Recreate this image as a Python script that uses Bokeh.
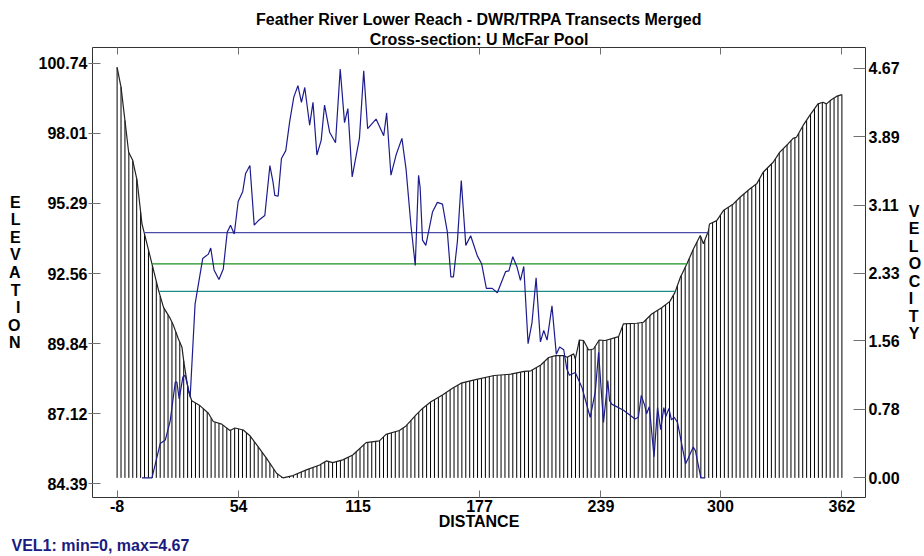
import numpy as np
from bokeh.plotting import figure
from bokeh.models import Range1d, LinearAxis, FixedTicker, Title
from bokeh.embed import file_html
from bokeh.resources import INLINE

# ---------------- data ----------------
title_line1 = "Feather River Lower Reach - DWR/TRPA Transects Merged"
title_line2 = "Cross-section: U McFar Pool"
x_label = "DISTANCE"
y_label = "ELEVATION"
y2_label = "VELOCITY"
note = "VEL1: min=0, max=4.67"

x_tick_labels = ["-8", "54", "115", "177", "239", "300", "362"]
elev_tick_labels = ["84.39", "87.12", "89.84", "92.56", "95.29", "98.01", "100.74"]
vel_tick_labels = ["0.00", "0.78", "1.56", "2.33", "3.11", "3.89", "4.67"]

bed_dist = [-8.0, -6.0, -2.1, -0.1, 2.2, 4.7, 9.8, 13.2, 15.7, 18.8,
            20.8, 23.3, 25.1, 26.2, 28.4, 30.1, 34.4, 38.6, 41.1, 45.4,
            49.6, 52.2, 56.4, 59.8, 63.2, 68.3, 73.4, 76.7, 81.8, 88.6,
            95.4, 98.8, 102.1, 107.2, 112.3, 119.1, 125.9, 129.3, 136.1, 139.5,
            144.6, 147.9, 152.2, 158.1, 163.2, 167.6, 174.4, 184.5, 193.0, 199.8,
            203.2, 208.3, 212.3, 215.8, 220.0, 221.7, 225.1, 225.9, 228.0, 230.1,
            232.7, 235.2, 238.1, 241.2, 248.0, 250.5, 257.3, 260.7, 264.9, 270.0,
            274.2, 276.8, 279.5, 282.9, 286.2, 289.7, 291.3, 293.9, 294.4, 298.1,
            301.5, 306.6, 310.0, 315.1, 318.5, 321.8, 326.9, 330.3, 334.6, 337.1,
            338.8, 342.2, 345.6, 349.8, 352.3, 354.1, 356.6, 359.2, 362.0]
bed_elev = [100.58, 99.81, 97.28, 96.98, 96.18, 94.49, 92.94, 91.90, 91.25, 90.86,
            90.54, 90.02, 89.70, 89.05, 88.01, 87.62, 87.42, 87.13, 86.81, 86.71,
            86.46, 86.56, 86.48, 86.26, 85.91, 85.38, 84.80, 84.62, 84.71, 84.93,
            85.12, 85.28, 85.21, 85.32, 85.51, 85.99, 86.06, 86.31, 86.46, 86.64,
            87.07, 87.32, 87.58, 87.84, 88.10, 88.30, 88.43, 88.60, 88.65, 88.76,
            88.78, 89.01, 89.30, 89.37, 89.37, 89.31, 89.44, 89.24, 89.98, 89.96,
            89.59, 89.63, 89.98, 89.96, 90.11, 90.61, 90.63, 90.67, 90.99, 91.23,
            91.48, 91.83, 92.41, 92.94, 93.52, 94.04, 93.72, 94.23, 94.49, 94.62,
            95.01, 95.27, 95.53, 95.86, 96.05, 96.50, 96.89, 97.28, 97.61, 97.82,
            97.86, 98.32, 98.71, 99.16, 99.22, 99.16, 99.32, 99.45, 99.52]

vel_dist = [4.7, 9.8, 14.0, 16.6, 19.1, 21.7, 22.5, 23.7, 25.6, 26.7,
            28.4, 29.3, 30.1, 31.8, 33.0, 35.7, 38.6, 39.8, 41.5, 44.0,
            46.2, 48.2, 49.9, 51.8, 53.8, 56.1, 57.6, 59.8, 62.0, 64.0,
            67.4, 70.0, 71.6, 72.5, 74.2, 75.9, 78.1, 80.1, 82.2, 84.3,
            86.1, 87.8, 90.3, 92.0, 94.0, 96.2, 97.9, 100.5, 103.5, 105.9,
            108.1, 109.8, 112.0, 115.7, 117.9, 119.9, 124.2, 128.1, 129.6, 131.8,
            134.4, 137.4, 139.5, 142.0, 144.2, 145.9, 146.7, 147.9, 149.6, 153.0,
            155.5, 158.1, 160.6, 162.4, 163.7, 165.7, 167.7, 170.0, 172.5, 175.9,
            178.1, 180.5, 183.5, 186.1, 190.3, 192.0, 194.0, 196.2, 197.9, 199.6,
            201.8, 203.8, 205.9, 208.1, 209.8, 211.5, 214.0, 216.2, 217.9, 220.0,
            221.6, 222.9, 225.9, 229.3, 233.5, 236.1, 237.8, 240.3, 242.5, 243.4,
            244.5, 250.5, 256.4, 258.1, 259.6, 261.4, 262.3, 263.7, 266.1, 267.9,
            269.5, 271.1, 272.1, 273.7, 275.0, 276.4, 278.1, 282.2, 283.5, 286.1,
            287.2, 290.0, 292.2]
vel = [0.00, 0.00, 0.39, 0.43, 0.65, 1.09, 1.09, 0.90, 1.15, 1.17,
       1.01, 0.92, 1.26, 1.98, 2.14, 2.50, 2.55, 2.62, 2.37, 2.26,
       2.38, 2.80, 2.88, 2.78, 3.15, 3.26, 3.47, 3.56, 2.88, 2.93,
       2.99, 3.56, 3.37, 3.22, 3.21, 3.64, 3.73, 4.06, 4.34, 4.47,
       4.28, 4.45, 4.02, 4.28, 3.68, 3.85, 4.25, 3.94, 3.82, 4.66,
       4.05, 4.21, 3.43, 3.87, 4.64, 3.98, 4.09, 3.90, 4.16, 3.45,
       3.68, 3.87, 3.52, 2.88, 2.42, 3.45, 3.31, 2.71, 2.65, 3.03,
       3.14, 3.12, 2.80, 2.29, 2.29, 2.69, 3.39, 2.65, 2.76, 2.53,
       2.44, 2.16, 2.16, 2.11, 2.35, 2.36, 2.52, 2.40, 2.25, 2.41,
       1.53, 1.77, 2.28, 1.55, 1.68, 1.57, 1.96, 1.41, 1.49, 1.46,
       1.24, 1.17, 1.20, 1.03, 0.69, 0.98, 1.43, 0.63, 1.11, 0.88,
       0.84, 0.77, 0.67, 0.69, 0.94, 0.82, 0.73, 0.81, 0.24, 0.80,
       0.55, 0.80, 0.70, 0.79, 0.66, 0.69, 0.63, 0.16, 0.22, 0.35,
       0.31, 0.00, 0.00]

wse_levels = [94.15, 92.94, 91.87]

# ---------------- style ----------------
FONT = "Liberation Sans"
wse_colors = ["#4b4ba8", "#1f8f1f", "#1f8c8c"]
vel_color = "#1c1c8e"
hatch_step = 2.0

# ---------------- figure ----------------
p = figure(width=924, height=556, title=None, output_backend="svg", toolbar_location=None,
           x_range=Range1d(-20.56, 374.05), y_range=Range1d(83.857, 101.35),
           x_axis_type=None, y_axis_type=None,
           min_border_left=92, min_border_right=56, min_border_top=47, min_border_bottom=59)
p.extra_y_ranges = {"vel": Range1d(-0.2246, 4.906)}
p.grid.visible = False
p.outline_line_color = "#333333"
p.outline_line_width = 1
p.background_fill_color = "white"
p.border_fill_color = "white"

def style_axis(ax, tin, tout, standoff):
    ax.axis_line_color = None
    ax.major_tick_in = tin
    ax.major_tick_out = tout
    ax.major_tick_line_color = "#707070"
    ax.minor_tick_line_color = None
    ax.major_label_standoff = standoff
    ax.major_label_text_font = FONT
    ax.major_label_text_font_style = "bold"
    ax.major_label_text_font_size = "16px"
    ax.major_label_text_color = "black"
    ax.axis_label_text_font = FONT
    ax.axis_label_text_font_style = "bold"
    ax.axis_label_text_font_size = "16px"
    ax.axis_label_text_color = "black"

x_ticks = [float(s) for s in x_tick_labels]

xb = LinearAxis(ticker=FixedTicker(ticks=x_ticks))
style_axis(xb, 7, 0, 2)
xb.major_label_overrides = {float(s): s for s in x_tick_labels}
xb.axis_label = x_label
xb.axis_label_standoff = -2
p.add_layout(xb, "below")

# tick marks only along the top edge
xt = LinearAxis(ticker=FixedTicker(ticks=x_ticks))
style_axis(xt, 7, 0, 0)
xt.major_label_overrides = {t: "" for t in x_ticks}
xt.major_label_text_font_size = "1px"
p.add_layout(xt, "above")

yl = LinearAxis(ticker=FixedTicker(ticks=[float(s) for s in elev_tick_labels]))
style_axis(yl, 8, 4, 1)
yl.major_label_overrides = {float(s): s for s in elev_tick_labels}
yl.axis_label = "\n".join(y_label)
yl.axis_label_orientation = "horizontal"
yl.axis_label_standoff = 15
yl.axis_label_text_line_height = 1.03
p.add_layout(yl, "left")

yr = LinearAxis(y_range_name="vel", ticker=FixedTicker(ticks=[float(s) for s in vel_tick_labels]))
style_axis(yr, 12, 0, 3)
yr.major_label_overrides = {float(s): s for s in vel_tick_labels}
yr.axis_label = "\n".join(y2_label)
yr.axis_label_orientation = "horizontal"
yr.axis_label_standoff = 6
yr.axis_label_text_line_height = 1.03
p.add_layout(yr, "right")

def mk_title(text, color="black", align="center", offset=0, standoff=0):
    return Title(text=text, align=align, offset=offset, standoff=standoff,
                 text_font=FONT, text_font_size="16px", text_font_style="bold",
                 text_color=color)

p.add_layout(mk_title(title_line2, standoff=0), "above")
p.add_layout(mk_title(title_line1, standoff=2), "above")
p.add_layout(mk_title(note, color="#1a1a80", align="left", offset=-81, standoff=5), "below")

# ---------------- glyphs ----------------
bd = np.array(bed_dist)
be = np.array(bed_elev)
hx = np.arange(bd[0], bd[-1] + 0.01, hatch_step)
htop = np.interp(hx, bd, be)
base = be.min()
p.segment(x0=hx, y0=np.full_like(hx, base), x1=hx, y1=htop, line_color="black", line_width=1)
p.line(bd, be, line_color="#222222", line_width=1.2)

def bank_crossings(level):
    idx = np.where(be < level)[0]
    i0, i1 = idx[0], idx[-1]
    xl = np.interp(level, [be[i0], be[i0 - 1]], [bd[i0], bd[i0 - 1]])
    xr = np.interp(level, [be[i1], be[i1 + 1]], [bd[i1], bd[i1 + 1]])
    return xl, xr

for lvl, col in zip(wse_levels, wse_colors):
    xl, xr = bank_crossings(lvl)
    p.line([xl, xr], [lvl, lvl], line_color=col, line_width=1.3)

p.line(vel_dist, vel, y_range_name="vel", line_color=vel_color, line_width=1.2)

open("out.html", "w").write(file_html(p, INLINE))
